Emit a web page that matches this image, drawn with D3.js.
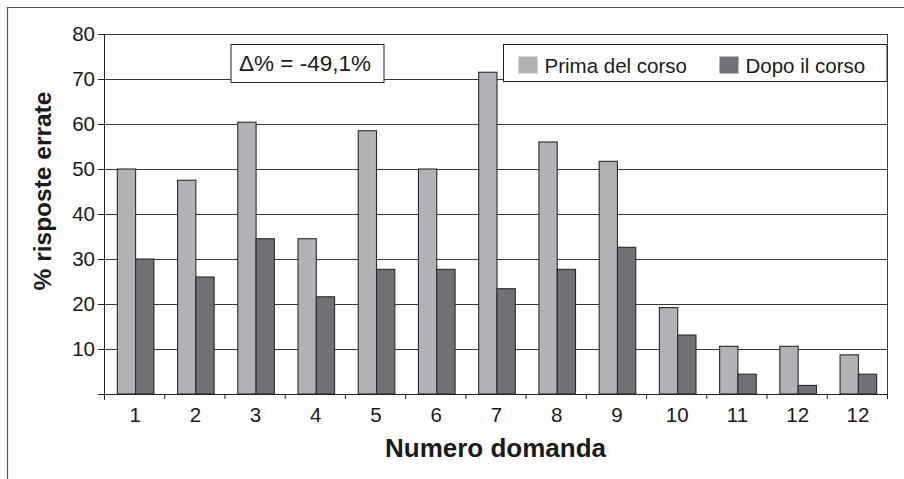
<!DOCTYPE html>
<html>
<head>
<meta charset="utf-8">
<script src="https://cdn.jsdelivr.net/npm/d3@7"></script>
<style>
  body { margin: 0; background: #fff; }
  svg text { font-family: "Liberation Sans", Arial, sans-serif; fill: #1a1a1a; }
</style>
</head>
<body>
<div id="wrapper"></div>
<script>
const questions = ["1", "2", "3", "4", "5", "6", "7", "8", "9", "10", "11", "12", "12"]
const seriesNames = ["Prima del corso", "Dopo il corso"]
const before = [50, 47.5, 60.4, 34.5, 58.5, 50, 71.5, 56, 51.7, 19.2, 10.6, 10.6, 8.7]
const after = [30, 26, 34.5, 21.6, 27.7, 27.7, 23.4, 27.7, 32.6, 13.1, 4.4, 1.9, 4.4]
const yTicks = [0, 10, 20, 30, 40, 50, 60, 70, 80]
const deltaLabel = "\u0394% = -49,1%"

function drawChart() {
  const dimensions = {
    width: 904,
    height: 479,
    margin: { top: 34, right: 17, bottom: 85, left: 104 },
  }
  dimensions.boundedWidth = dimensions.width - dimensions.margin.left - dimensions.margin.right
  dimensions.boundedHeight = dimensions.height - dimensions.margin.top - dimensions.margin.bottom

  const colors = ["#b1b2b6", "#707175"]
  const rows = questions.map((q, i) => ({ i, q, values: [before[i], after[i]] }))

  const xScale = d3.scaleBand()
      .domain(d3.range(questions.length))
      .range([0, dimensions.boundedWidth])
      .padding(0)

  const edgeScale = d3.scaleLinear()
      .domain([0, questions.length])
      .range([0, dimensions.boundedWidth])

  const yScale = d3.scaleLinear()
      .domain([0, 80])
      .range([dimensions.boundedHeight, 0])

  const barWidth = 18.3
  const seriesScale = d3.scaleBand()
      .domain(d3.range(seriesNames.length))
      .range([xScale.bandwidth() / 2 - barWidth + 1.5, xScale.bandwidth() / 2 + barWidth + 1.5])

  const wrapper = d3.select("#wrapper")
    .append("svg")
      .attr("width", dimensions.width)
      .attr("height", dimensions.height)

  // outer frame (left + top only)
  wrapper.append("path")
      .attr("d", "M7.5,479V7.5H904")
      .attr("fill", "none")
      .attr("stroke", "#555")
      .attr("stroke-width", 1.2)

  const bounds = wrapper.append("g")
      .attr("transform", `translate(${dimensions.margin.left},${dimensions.margin.top})`)

  // gridlines
  bounds.append("g")
    .selectAll("line")
    .data(yTicks.filter(d => d > 0))
    .join("line")
      .attr("x1", 0)
      .attr("x2", dimensions.boundedWidth)
      .attr("y1", d => Math.round(yScale(d)) + 0.5)
      .attr("y2", d => Math.round(yScale(d)) + 0.5)
      .attr("stroke", "#3a3a3a")
      .attr("stroke-width", 1)

  // right border
  bounds.append("line")
      .attr("x1", dimensions.boundedWidth + 0.5)
      .attr("x2", dimensions.boundedWidth + 0.5)
      .attr("y1", 0)
      .attr("y2", dimensions.boundedHeight)
      .attr("stroke", "#3a3a3a")

  // bars
  bounds.append("g")
    .selectAll("g")
    .data(rows)
    .join("g")
      .attr("transform", d => `translate(${xScale(d.i)},0)`)
    .selectAll("rect")
    .data(d => d.values.map((v, j) => ({ v, j })))
    .join("rect")
      .attr("x", d => seriesScale(d.j))
      .attr("width", seriesScale.bandwidth())
      .attr("y", d => yScale(d.v))
      .attr("height", d => dimensions.boundedHeight - yScale(d.v))
      .attr("fill", d => colors[d.j])
      .attr("stroke", "#2a2a2a")
      .attr("stroke-width", 1.1)

  // y axis
  const yAxisGenerator = d3.axisLeft(yScale)
      .tickValues(yTicks)
      .tickSize(6)
      .tickPadding(3)
      .tickFormat(d => d === 0 ? "" : d)

  const yAxis = bounds.append("g")
      .call(yAxisGenerator)
  yAxis.select(".domain").attr("d", `M0.5,0V${dimensions.boundedHeight + 6}`).attr("stroke", "#222")
  yAxis.selectAll(".tick line").attr("stroke", "#222")
  yAxis.selectAll("text")
      .attr("font-size", 20.5)
      .attr("font-family", null)
      .attr("fill", "#1a1a1a")

  // x axis: boundary ticks
  const xEdgeAxis = bounds.append("g")
      .attr("transform", `translate(0,${dimensions.boundedHeight})`)
      .call(d3.axisBottom(edgeScale).ticks(questions.length).tickSize(5).tickFormat(""))
  xEdgeAxis.select(".domain").attr("d", `M-6,0.5H${dimensions.boundedWidth + 0.5}`).attr("stroke", "#222")
  xEdgeAxis.selectAll(".tick line").attr("stroke", "#222")

  // x axis: labels
  const xAxis = bounds.append("g")
      .attr("transform", `translate(0,${dimensions.boundedHeight})`)
      .call(d3.axisBottom(xScale).tickSize(0).tickPadding(13).tickFormat(i => questions[i]))
  xAxis.select(".domain").remove()
  xAxis.selectAll("text")
      .attr("font-size", 20.5)
      .attr("font-family", null)
      .attr("fill", "#1a1a1a")
      .attr("dx", 1)

  // axis titles
  wrapper.append("text")
      .attr("x", dimensions.margin.left + dimensions.boundedWidth / 2)
      .attr("y", 457)
      .attr("text-anchor", "middle")
      .attr("font-size", 26)
      .attr("font-weight", "bold")
      .text("Numero domanda")

  wrapper.append("text")
      .attr("transform", "translate(51,191) rotate(-90)")
      .attr("text-anchor", "middle")
      .attr("font-size", 24.5)
      .attr("font-weight", "bold")
      .text("% risposte errate")

  // delta annotation box
  const deltaBox = wrapper.append("g").attr("transform", "translate(231,44.5)")
  deltaBox.append("rect")
      .attr("width", 153)
      .attr("height", 38)
      .attr("fill", "#fff")
      .attr("stroke", "#222")
  deltaBox.append("text")
      .attr("x", 8)
      .attr("y", 26)
      .attr("font-size", 22.5)
      .text(deltaLabel)

  // legend
  const legend = wrapper.append("g").attr("transform", "translate(503.5,44.5)")
  legend.append("rect")
      .attr("width", 383.5)
      .attr("height", 37)
      .attr("fill", "#fff")
      .attr("stroke", "#222")
  const legendItems = legend.selectAll("g")
    .data(seriesNames)
    .join("g")
      .attr("transform", (d, i) => `translate(${[15, 216][i]},12)`)
  legendItems.append("rect")
      .attr("width", 19)
      .attr("height", 17)
      .attr("fill", (d, i) => colors[i])
  legendItems.append("text")
      .attr("x", 26)
      .attr("y", 16)
      .attr("font-size", 20.5)
      .text(d => d)
}

drawChart()
</script>
</body>
</html>
